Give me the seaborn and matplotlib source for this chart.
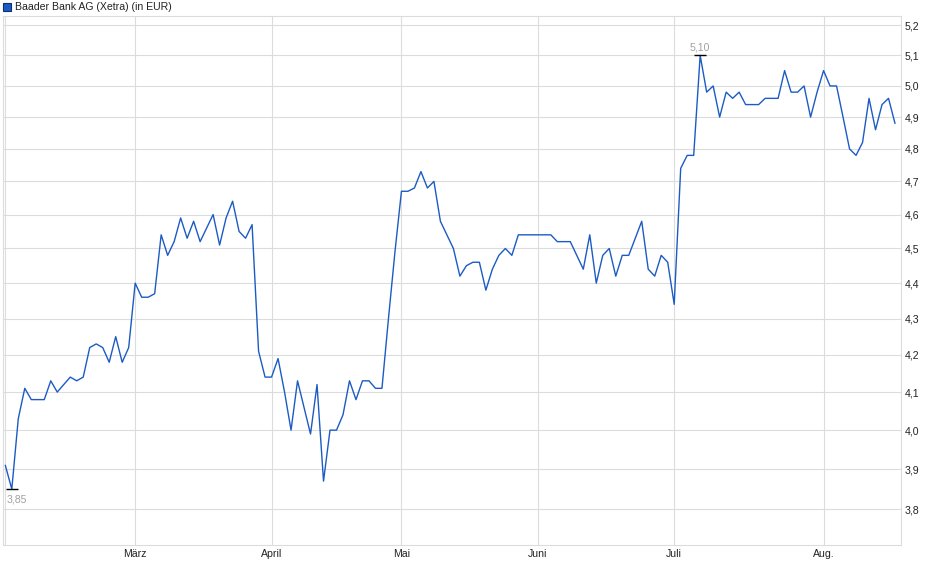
import numpy as np
import pandas as pd
import matplotlib

matplotlib.use('Agg')

import matplotlib.pyplot as plt
import seaborn as sns
from matplotlib import ticker
from matplotlib.patches import Rectangle

sns.set_style("white")
plt.rcParams['font.family'] = ['Liberation Sans', 'DejaVu Sans']

# daily closing prices (Xetra), one list per month
feb = [3.91, 3.85, 4.03, 4.11, 4.08, 4.08, 4.08, 4.13, 4.10, 4.12,
       4.14, 4.13, 4.14, 4.22, 4.23, 4.22, 4.18, 4.25, 4.18, 4.22]
mar = [4.40, 4.36, 4.36, 4.37, 4.54, 4.48, 4.52, 4.59, 4.53, 4.58, 4.52,
       4.56, 4.60, 4.51, 4.59, 4.64, 4.55, 4.53, 4.57, 4.21, 4.14]
apr = [4.14, 4.19, 4.10, 4.00, 4.13, 4.06, 3.99, 4.12, 3.87, 4.00,
       4.00, 4.04, 4.13, 4.08, 4.13, 4.13, 4.11, 4.11, 4.30, 4.49]
may = [4.67, 4.67, 4.68, 4.73, 4.68, 4.70, 4.58, 4.54, 4.50, 4.42, 4.45,
       4.46, 4.46, 4.38, 4.44, 4.48, 4.50, 4.48, 4.54, 4.54, 4.54]
jun = [4.54, 4.54, 4.54, 4.52, 4.52, 4.52, 4.48, 4.44, 4.54, 4.40, 4.48,
       4.50, 4.42, 4.48, 4.48, 4.53, 4.58, 4.44, 4.42, 4.48, 4.46]
jul = [4.34, 4.74, 4.78, 4.78, 5.10, 4.98, 5.00, 4.90, 4.98, 4.96, 4.98, 4.94,
       4.94, 4.94, 4.96, 4.96, 4.96, 5.05, 4.98, 4.98, 5.00, 4.90, 4.98]
aug = [5.05, 5.00, 5.00, 4.90, 4.80, 4.78, 4.82, 4.96, 4.86, 4.94, 4.96, 4.88]

holidays = ['2025-04-18', '2025-04-21', '2025-05-01']
month_labels = ['', 'März', 'April', 'Mai', 'Juni', 'Juli', 'Aug.']
y_ticks = [3.8, 3.9, 4.0, 4.1, 4.2, 4.3, 4.4, 4.5, 4.6, 4.7, 4.8, 4.9, 5.0, 5.1, 5.2]
title = "Baader Bank AG (Xetra) (in EUR)"

prices = feb + mar + apr + may + jun + jul + aug
dates = pd.bdate_range('2025-02-03', periods=len(prices), freq='C', holidays=holidays)
df = pd.DataFrame({'day': np.arange(len(prices)), 'date': dates, 'price': prices})

line_color = '#1c5bc4'
grid_color = '#dcdcdc'
text_color = '#222222'

fig = plt.figure(figsize=(9.4, 5.79), dpi=100)
ax = fig.add_axes([2.7 / 940, 1 - 545 / 579, (901.5 - 2.7) / 940, (545 - 16) / 579])

sns.lineplot(data=df, x='day', y='price', ax=ax, color=line_color, lw=1.0)

ax.set_yscale('log')
ax.set_ylim(3.713, 5.232)
ax.set_xlim(-0.4, len(prices))

# month gridlines on first trading day of each month
month_start = [i for i in range(len(dates)) if i == 0 or dates[i].month != dates[i - 1].month]
ax.xaxis.set_major_locator(ticker.FixedLocator(month_start))
ax.set_xticklabels(month_labels)
ax.yaxis.set_major_locator(ticker.FixedLocator(y_ticks))
ax.yaxis.set_minor_locator(ticker.NullLocator())
ax.set_yticklabels([f"{v:.1f}".replace('.', ',') for v in y_ticks])
ax.yaxis.tick_right()

ax.grid(True, color=grid_color, lw=0.8)
for s in ax.spines.values():
    s.set_color(grid_color)
    s.set_linewidth(0.8)
ax.tick_params(axis='both', length=0, labelsize=7.6, colors=text_color)
ax.tick_params(axis='y', pad=2)
ax.tick_params(axis='x', pad=3)
ax.set_xlabel('')
ax.set_ylabel('')

# min / max markers
i_min = int(np.argmin(prices))
i_max = int(np.argmax(prices))
for i, dy, dx in [(i_min, -7.7, 3.4), (i_max, 6.0, 0)]:
    ax.plot(df['day'][i], df['price'][i], marker='_', ms=8, mew=1.0, color='black')
    ax.annotate(f"{prices[i]:.2f}".replace('.', ','), (df['day'][i], df['price'][i]),
                xytext=(dx, dy), textcoords='offset points', ha='center', va='center',
                fontsize=7.6, color='#a0a0a0')

# legend box
fig.patches.append(Rectangle((3 / 940, 1 - 11 / 579), 8 / 940, 8 / 579, transform=fig.transFigure,
                             facecolor=line_color, edgecolor='#0d2f6e', lw=0.8))
fig.text(15 / 940, 1 - 7 / 579, title, va='center', ha='left', fontsize=7.6, color=text_color)

plt.savefig('out.png', dpi=100)
